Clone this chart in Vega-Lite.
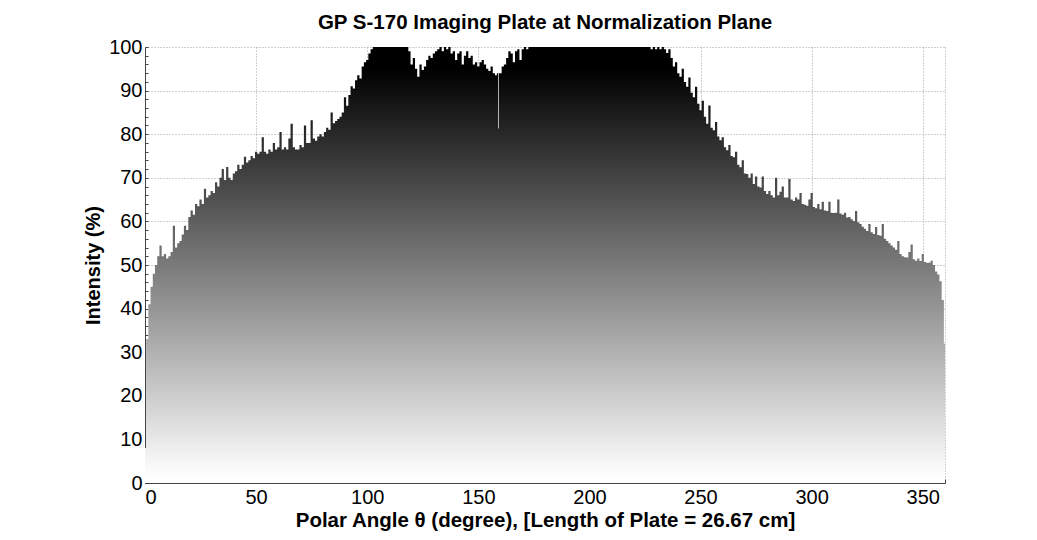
{
  "$schema": "https://vega.github.io/schema/vega-lite/v6.json",
  "width": 800,
  "height": 436,
  "autosize": {"type": "none"},
  "padding": {"left": 145, "top": 47, "right": 92, "bottom": 57},
  "background": "white",
  "title": {
    "text": "GP S-170 Imaging Plate at Normalization Plane",
    "font": "Liberation Sans",
    "fontSize": 20.5,
    "fontWeight": "bold",
    "color": "black",
    "anchor": "middle",
    "offset": 4
  },
  "data": {
    "values": [
      {"a":0,"v":8},{"a":1,"v":33},{"a":2,"v":41},{"a":3,"v":45},{"a":4,"v":48},{"a":5,"v":50},{"a":6,"v":52},{"a":7,"v":54.5},{"a":8,"v":52},{"a":9,"v":52.5},
      {"a":10,"v":51.5},{"a":11,"v":52},{"a":12,"v":53},{"a":13,"v":59},{"a":14,"v":54},{"a":15,"v":55},{"a":16,"v":55.5},{"a":17,"v":57},{"a":18,"v":59},{"a":19,"v":58},
      {"a":20,"v":61},{"a":21,"v":62.5},{"a":22,"v":61.5},{"a":23,"v":64},{"a":24,"v":63.5},{"a":25,"v":65},{"a":26,"v":64},{"a":27,"v":67.5},{"a":28,"v":65.5},{"a":29,"v":66},
      {"a":30,"v":67},{"a":31,"v":66.5},{"a":32,"v":69},{"a":33,"v":68},{"a":34,"v":70},{"a":35,"v":72},{"a":36,"v":69.5},{"a":37,"v":72.5},{"a":38,"v":70},{"a":39,"v":69.5},
      {"a":40,"v":71},{"a":41,"v":71.5},{"a":42,"v":73},{"a":43,"v":72},{"a":44,"v":73},{"a":45,"v":74.8},{"a":46,"v":73.5},{"a":47,"v":74},{"a":48,"v":75},{"a":49,"v":74.5},
      {"a":50,"v":76},{"a":51,"v":75.5},{"a":52,"v":76},{"a":53,"v":79.3},{"a":54,"v":76},{"a":55,"v":75.5},{"a":56,"v":76.5},{"a":57,"v":76},{"a":58,"v":78},{"a":59,"v":76.5},
      {"a":60,"v":77},{"a":61,"v":80.5},{"a":62,"v":76.5},{"a":63,"v":77},{"a":64,"v":76.5},{"a":65,"v":79},{"a":66,"v":82.4},{"a":67,"v":77},{"a":68,"v":76.5},{"a":69,"v":76.5},
      {"a":70,"v":77.5},{"a":71,"v":77},{"a":72,"v":82},{"a":73,"v":78},{"a":74,"v":78},{"a":75,"v":83.2},{"a":76,"v":79},{"a":77,"v":78.5},{"a":78,"v":79.5},{"a":79,"v":80},
      {"a":80,"v":79.5},{"a":81,"v":80.5},{"a":82,"v":81.5},{"a":83,"v":81},{"a":84,"v":85},{"a":85,"v":82.5},{"a":86,"v":83},{"a":87,"v":83.5},{"a":88,"v":84},{"a":89,"v":85},
      {"a":90,"v":88.5},{"a":91,"v":86.5},{"a":92,"v":89},{"a":93,"v":91},{"a":94,"v":90.5},{"a":95,"v":92.4},{"a":96,"v":93.5},{"a":97,"v":92.8},{"a":98,"v":95.5},{"a":99,"v":96.5},
      {"a":100,"v":97},{"a":101,"v":98.5},{"a":102,"v":99.5},{"a":103,"v":100},{"a":104,"v":100},{"a":105,"v":100},{"a":106,"v":100},{"a":107,"v":100},{"a":108,"v":100},{"a":109,"v":100},
      {"a":110,"v":100},{"a":111,"v":100},{"a":112,"v":100},{"a":113,"v":100},{"a":114,"v":100},{"a":115,"v":100},{"a":116,"v":100},{"a":117,"v":100},{"a":118,"v":100},{"a":119,"v":99},
      {"a":120,"v":96},{"a":121,"v":97.5},{"a":122,"v":95},{"a":123,"v":93.2},{"a":124,"v":96},{"a":125,"v":94.7},{"a":126,"v":95.5},{"a":127,"v":97},{"a":128,"v":98},{"a":129,"v":97.5},
      {"a":130,"v":98.5},{"a":131,"v":99},{"a":132,"v":99.5},{"a":133,"v":100},{"a":134,"v":99},{"a":135,"v":100},{"a":136,"v":99.5},{"a":137,"v":100},{"a":138,"v":98.5},{"a":139,"v":99},
      {"a":140,"v":97},{"a":141,"v":98.5},{"a":142,"v":99},{"a":143,"v":96},{"a":144,"v":98},{"a":145,"v":99},{"a":146,"v":97.5},{"a":147,"v":98},{"a":148,"v":96},{"a":149,"v":96.5},
      {"a":150,"v":95.5},{"a":151,"v":96.5},{"a":152,"v":97},{"a":153,"v":96},{"a":154,"v":95},{"a":155,"v":94.5},{"a":156,"v":95.5},{"a":157,"v":94},{"a":158,"v":93.5},{"a":158.7,"v":94},
      {"a":159,"v":81.3},{"a":159.3,"v":94},{"a":160,"v":94},{"a":161,"v":95.5},{"a":162,"v":96},{"a":163,"v":97.5},{"a":164,"v":99},{"a":165,"v":98.5},{"a":166,"v":96.5},{"a":167,"v":99},
      {"a":168,"v":99.5},{"a":169,"v":97},{"a":170,"v":99.5},{"a":171,"v":100},{"a":172,"v":99.5},{"a":173,"v":100},{"a":174,"v":100},{"a":175,"v":100},{"a":176,"v":100},{"a":177,"v":100},
      {"a":178,"v":100},{"a":179,"v":100},{"a":180,"v":100},{"a":181,"v":100},{"a":182,"v":100},{"a":183,"v":100},{"a":184,"v":100},{"a":185,"v":100},{"a":186,"v":100},{"a":187,"v":100},
      {"a":188,"v":100},{"a":189,"v":100},{"a":190,"v":100},{"a":191,"v":100},{"a":192,"v":100},{"a":193,"v":100},{"a":194,"v":100},{"a":195,"v":100},{"a":196,"v":100},{"a":197,"v":100},
      {"a":198,"v":100},{"a":199,"v":100},{"a":200,"v":100},{"a":201,"v":100},{"a":202,"v":100},{"a":203,"v":100},{"a":204,"v":100},{"a":205,"v":100},{"a":206,"v":100},{"a":207,"v":100},
      {"a":208,"v":100},{"a":209,"v":100},{"a":210,"v":100},{"a":211,"v":100},{"a":212,"v":100},{"a":213,"v":100},{"a":214,"v":100},{"a":215,"v":100},{"a":216,"v":100},{"a":217,"v":100},
      {"a":218,"v":100},{"a":219,"v":100},{"a":220,"v":100},{"a":221,"v":100},{"a":222,"v":100},{"a":223,"v":100},{"a":224,"v":100},{"a":225,"v":100},{"a":226,"v":100},{"a":227,"v":100},
      {"a":228,"v":99.5},{"a":229,"v":100},{"a":230,"v":99.5},{"a":231,"v":100},{"a":232,"v":99.5},{"a":233,"v":100},{"a":234,"v":99.5},{"a":235,"v":98.6},{"a":236,"v":99.5},{"a":237,"v":97.5},
      {"a":238,"v":95.5},{"a":239,"v":96.5},{"a":240,"v":94},{"a":241,"v":93.2},{"a":242,"v":95},{"a":243,"v":92},{"a":244,"v":90.9},{"a":245,"v":93},{"a":246,"v":89.5},{"a":247,"v":88.5},
      {"a":248,"v":90.9},{"a":249,"v":87},{"a":250,"v":85.5},{"a":251,"v":87.7},{"a":252,"v":84},{"a":253,"v":82.4},{"a":254,"v":86.6},{"a":255,"v":81.5},{"a":256,"v":80.9},{"a":257,"v":82.8},
      {"a":258,"v":79.5},{"a":259,"v":78.6},{"a":260,"v":79.3},{"a":261,"v":77},{"a":262,"v":76.3},{"a":263,"v":77.5},{"a":264,"v":75},{"a":265,"v":74.7},{"a":266,"v":76},{"a":267,"v":73},
      {"a":268,"v":72.4},{"a":269,"v":74},{"a":270,"v":71},{"a":271,"v":70.9},{"a":272,"v":70},{"a":273,"v":71},{"a":274,"v":68.6},{"a":275,"v":70.3},{"a":276,"v":68},{"a":277,"v":67.8},
      {"a":278,"v":70.3},{"a":279,"v":67},{"a":280,"v":66.3},{"a":281,"v":67},{"a":282,"v":66},{"a":283,"v":65.5},{"a":284,"v":70},{"a":285,"v":66},{"a":286,"v":66.8},{"a":287,"v":68},
      {"a":288,"v":65.5},{"a":289,"v":65.5},{"a":290,"v":69.7},{"a":291,"v":65},{"a":292,"v":64.7},{"a":293,"v":65.5},{"a":294,"v":65},{"a":295,"v":66.5},{"a":296,"v":64},{"a":297,"v":63.8},
      {"a":298,"v":63.6},{"a":299,"v":65},{"a":300,"v":66.5},{"a":301,"v":63.3},{"a":302,"v":63},{"a":303,"v":64},{"a":304,"v":62.8},{"a":305,"v":64.5},{"a":306,"v":62.5},{"a":307,"v":62.4},
      {"a":308,"v":64.5},{"a":309,"v":62},{"a":310,"v":61.9},{"a":311,"v":62},{"a":312,"v":65},{"a":313,"v":61.8},{"a":314,"v":61.5},{"a":315,"v":62},{"a":316,"v":60.9},{"a":317,"v":61},
      {"a":318,"v":60.5},{"a":319,"v":60.1},{"a":320,"v":62.4},{"a":321,"v":59.8},{"a":322,"v":59.4},{"a":323,"v":58.8},{"a":324,"v":58.3},{"a":325,"v":57.8},{"a":326,"v":59.4},{"a":327,"v":57.5},
      {"a":328,"v":57.1},{"a":329,"v":58.7},{"a":330,"v":56.9},{"a":331,"v":56.7},{"a":332,"v":59.4},{"a":333,"v":56},{"a":334,"v":55.5},{"a":335,"v":55},{"a":336,"v":54.5},{"a":337,"v":54},
      {"a":338,"v":53.5},{"a":339,"v":55.5},{"a":340,"v":52.5},{"a":341,"v":52},{"a":342,"v":51.8},{"a":343,"v":51.7},{"a":344,"v":53},{"a":345,"v":54.7},{"a":346,"v":51.3},{"a":347,"v":51},
      {"a":348,"v":51.5},{"a":349,"v":50.9},{"a":350,"v":52.5},{"a":351,"v":50.7},{"a":352,"v":50.5},{"a":353,"v":50.5},{"a":354,"v":51},{"a":355,"v":50},{"a":356,"v":48.5},{"a":357,"v":47.8},
      {"a":358,"v":46.3},{"a":359,"v":42},{"a":360,"v":32}
    ]
  },
  "mark": {
    "type": "area",
    "interpolate": "step",
    "line": false,
    "color": {
      "gradient": "linear",
      "x1": 0, "x2": 0, "y1": 1, "y2": 0,
      "stops": [
        {"offset": 0, "color": "#ffffff"},
        {"offset": 0.03, "color": "#fbfbfb"},
        {"offset": 0.5, "color": "#7a7a7a"},
        {"offset": 0.95, "color": "#000000"},
        {"offset": 1, "color": "#000000"}
      ]
    }
  },
  "encoding": {
    "x": {
      "field": "a",
      "type": "quantitative",
      "scale": {"domain": [0, 360], "nice": false, "zero": false},
      "axis": {
        "title": "Polar Angle θ (degree), [Length of Plate = 26.67 cm]",
        "values": [0,10,20,30,40,50,60,70,80,90,100,110,120,130,140,150,160,170,180,190,200,210,220,230,240,250,260,270,280,290,300,310,320,330,340,350,360],
        "labelExpr": "datum.value % 50 === 0 && datum.value < 360 ? datum.label : ''",
        "tickSize": -4,
        "tickColor": "#444444",
        "domainColor": "#444444",
        "labelPadding": 8,
        "labelFont": "Liberation Sans",
        "labelFontSize": 20,
        "labelColor": "black",
        "titleFont": "Liberation Sans",
        "titleFontSize": 20.5,
        "titleFontWeight": "bold",
        "titleColor": "black",
        "titlePadding": 3,
        "grid": true,
        "gridColor": "#a0a0a0",
        "gridDash": [1, 2],
        "gridOpacity": {"condition": {"test": "datum.value % 50 === 0 || datum.value === 360", "value": 1}, "value": 0}
      }
    },
    "y": {
      "field": "v",
      "type": "quantitative",
      "scale": {"domain": [0, 100], "nice": false},
      "axis": {
        "title": "Intensity (%)",
        "values": [0,2,4,6,8,10,12,14,16,18,20,22,24,26,28,30,32,34,36,38,40,42,44,46,48,50,52,54,56,58,60,62,64,66,68,70,72,74,76,78,80,82,84,86,88,90,92,94,96,98,100],
        "labelExpr": "datum.value % 10 === 0 ? datum.label : ''",
        "tickSize": -3,
        "tickColor": "#444444",
        "domainColor": "#444444",
        "labelPadding": 6,
        "labelFont": "Liberation Sans",
        "labelFontSize": 20,
        "labelColor": "black",
        "titleFont": "Liberation Sans",
        "titleFontSize": 20,
        "titleFontWeight": "bold",
        "titleColor": "black",
        "titlePadding": 5,
        "grid": true,
        "gridColor": "#a0a0a0",
        "gridDash": [1, 2],
        "gridOpacity": {"condition": {"test": "datum.value % 10 === 0", "value": 1}, "value": 0}
      }
    }
  },
  "config": {"view": {"stroke": null}}
}
